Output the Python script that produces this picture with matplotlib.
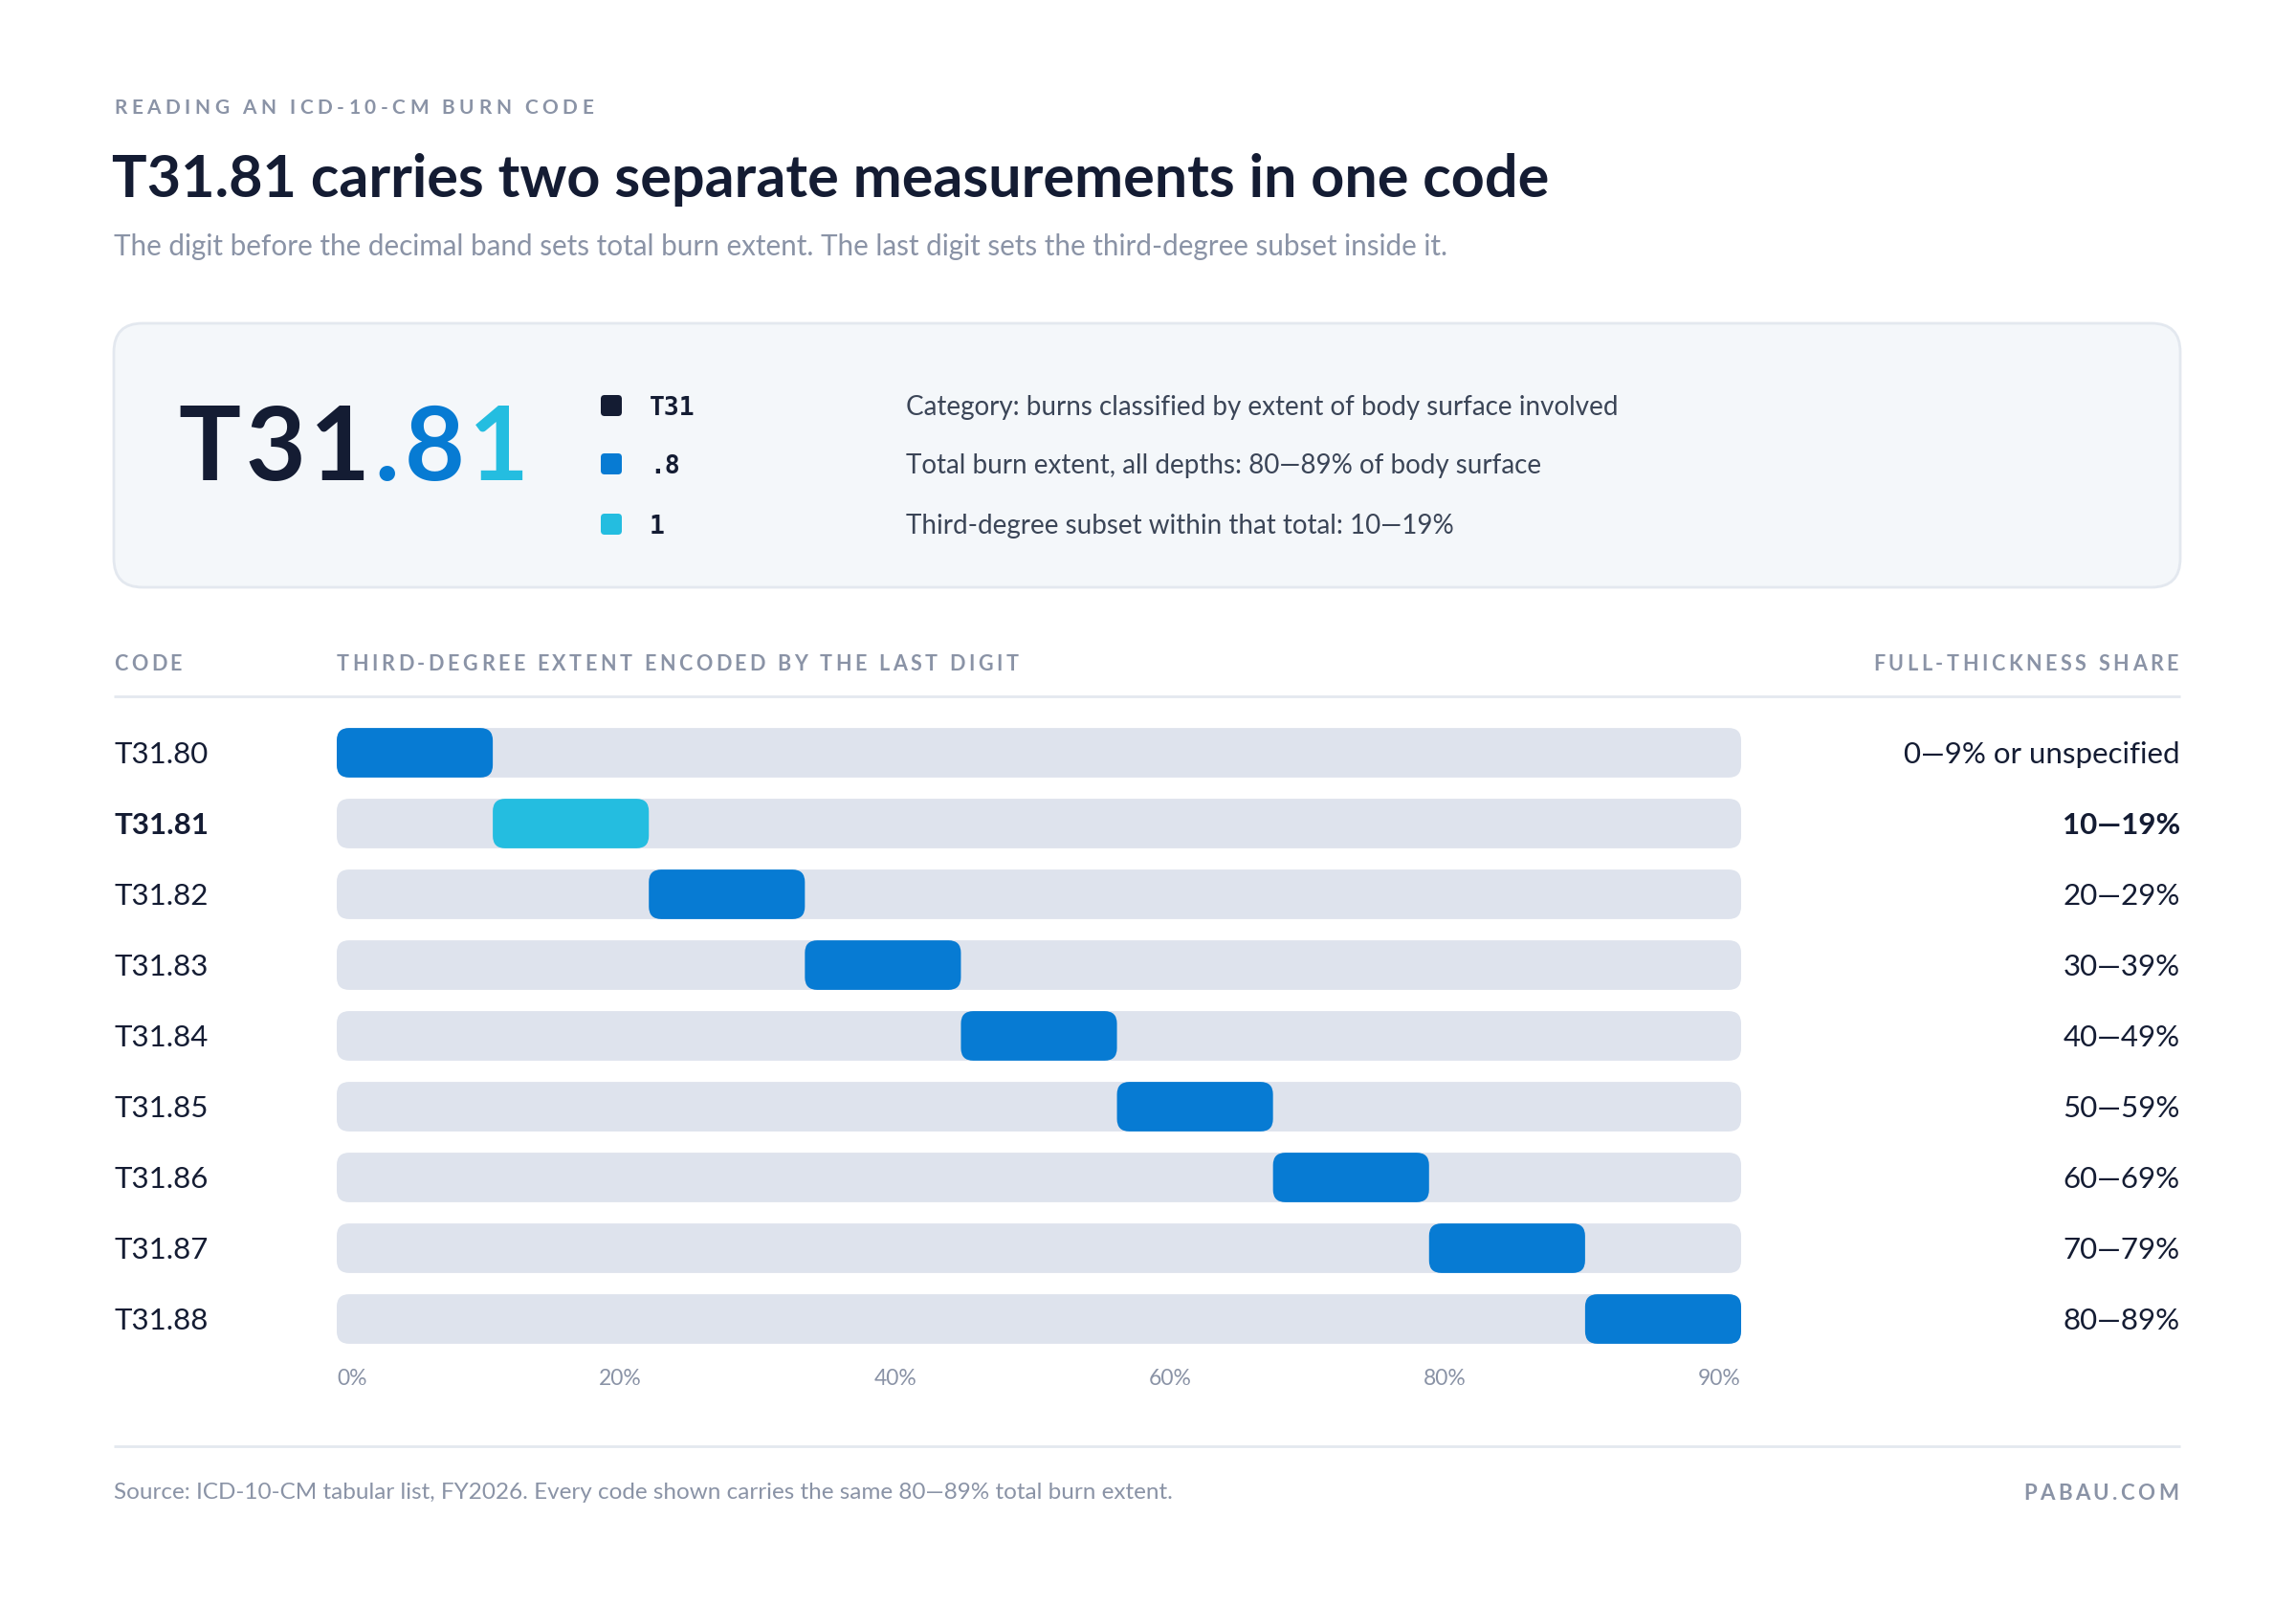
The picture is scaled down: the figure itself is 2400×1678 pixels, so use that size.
import numpy as np
import matplotlib
matplotlib.use("Agg")
import matplotlib.pyplot as plt
from matplotlib.patches import FancyBboxPatch
from matplotlib.font_manager import FontProperties, findfont, get_font
try:
    from matplotlib.ft2font import LoadFlags
    NOHINT = LoadFlags.NO_HINTING
except ImportError:
    from matplotlib.ft2font import LOAD_NO_HINTING as NOHINT

# ---- data ----
codes = ["T31.80", "T31.81", "T31.82", "T31.83", "T31.84", "T31.85", "T31.86", "T31.87", "T31.88"]
band_start = [0, 10, 20, 30, 40, 50, 60, 70, 80]
band_width = [10, 10, 10, 10, 10, 10, 10, 10, 10]
share_labels = ["0\u20149% or unspecified", "10\u201419%", "20\u201429%", "30\u201439%", "40\u201449%",
                "50\u201459%", "60\u201469%", "70\u201479%", "80\u201489%"]
highlight = "T31.81"
track_max = 90
tick_labels = ["0%", "20%", "40%", "60%", "80%", "90%"]

legend_parts = ["T31", ".8", "1"]
legend_desc = ["Category: burns classified by extent of body surface involved",
               "Total burn extent, all depths: 80\u201489% of body surface",
               "Third-degree subset within that total: 10\u201419%"]

# ---- style ----
NAVY = "#141c33"
GREY = "#8a93a6"
TEXT = "#3b4557"
BLUE = "#077bd3"
CYAN = "#24bde0"
TRACK = "#dee3ed"
CARD = "#f4f7fa"
LINE = "#e3e8ef"
FONT = "Lato"
DPI = 100
W, H = 2400, 1678

fig = plt.figure(figsize=(W / DPI, H / DPI), dpi=DPI)
fig.patch.set_facecolor("white")
lay = fig.add_axes([0, 0, 1, 1])
lay.set_xlim(0, W)
lay.set_ylim(H, 0)
lay.axis("off")


def advances(s, size, weight="normal", family=FONT):
    prop = FontProperties(family=family, weight=weight, size=size)
    font = get_font(findfont(prop))
    font.set_size(size, DPI)
    out = []
    for c in s:
        g = font.load_char(ord(c), flags=NOHINT)
        out.append(g.linearHoriAdvance / 65536)
    return prop, out


def spaced(x, y, s, size, spacing, color, weight="normal", ha="left", colors=None):
    # letter-spaced text, drawn char by char on the baseline
    prop, adv = advances(s, size, weight)
    total = sum(adv) + spacing * (len(s) - 1)
    x0 = x - total if ha == "right" else x
    if colors is None:
        colors = [color] * len(s)
    for c, a, col in zip(s, adv, colors):
        lay.text(x0, y, c, fontproperties=prop, color=col, ha="left", va="baseline")
        x0 += a + spacing


# ---- header ----
spaced(119, 119, "READING AN ICD-10-CM BURN CODE", 15, 4.5, GREY, weight="bold")
lay.text(117, 206, "T31.81 carries two separate measurements in one code", fontsize=44,
         fontfamily=FONT, fontweight="bold", color=NAVY, va="baseline")
lay.text(119, 267, "The digit before the decimal band sets total burn extent. The last digit sets the third-degree subset inside it.",
         fontsize=21.3, fontfamily=FONT, color=GREY, va="baseline")

# ---- card ----
lay.add_patch(FancyBboxPatch((119, 338), 2160, 276, boxstyle="round,pad=0,rounding_size=30",
                             fc=CARD, ec=LINE, lw=2))

big_colors = [NAVY, BLUE, CYAN]
big_code = "".join(legend_parts)
char_cols = [col for part, col in zip(legend_parts, big_colors) for _ in part]
spaced(186, 502, big_code, 78, 5, NAVY, weight="bold", colors=char_cols)

rows_y = [424, 485, 548]
for yy, part, col, desc in zip(rows_y, legend_parts, big_colors, legend_desc):
    lay.add_patch(FancyBboxPatch((628, yy - 11), 22, 22, boxstyle="round,pad=0,rounding_size=4",
                                 fc=col, ec="none"))
    lay.text(679, yy + 10, part, fontsize=19, fontfamily="DejaVu Sans Mono", fontweight="bold",
             color=NAVY, va="baseline")
    lay.text(947, yy + 10, desc, fontsize=20, fontfamily=FONT, color=TEXT, va="baseline")

# ---- table headers ----
spaced(119, 701, "CODE", 15.5, 3.6, GREY, weight="bold")
spaced(352, 701, "THIRD-DEGREE EXTENT ENCODED BY THE LAST DIGIT", 15.5, 3.6, GREY, weight="bold")
spaced(2277, 701, "FULL-THICKNESS SHARE", 15.5, 3.6, GREY, weight="bold", ha="right")
lay.plot([119, 2279], [728, 728], color=LINE, lw=2, solid_capstyle="butt")

# ---- bars ----
ax = fig.add_axes([352 / W, 1 - 1416 / H, 1468 / W, 666 / H])
ax.set_xlim(0, track_max)
ax.set_ylim(len(codes) - 0.5, -0.5)
ax.axis("off")

ypos = np.arange(len(codes))
bar_h = 0.70
track = ax.barh(ypos, [track_max] * len(codes), height=bar_h, color=TRACK)
band_cols = [CYAN if c == highlight else BLUE for c in codes]
bands = ax.barh(ypos, band_width, left=band_start, height=bar_h, color=band_cols)

# rounded corners: same pixel radius in x and y
px_x = track_max / (1468)
px_y = len(codes) / 666
asp = px_y / px_x
rad = 13 * px_x
for cont in (track, bands):
    for p in cont.patches:
        ax.add_patch(FancyBboxPatch((p.get_x(), p.get_y()), p.get_width(), p.get_height(),
                                    boxstyle=f"round,pad=0,rounding_size={rad}", mutation_aspect=asp,
                                    fc=p.get_facecolor(), ec="none"))
        p.set_visible(False)

# labels at each row, positioned through the bar axes
to_lay = lay.transData.inverted()
for i, (c, s) in enumerate(zip(codes, share_labels)):
    yy = to_lay.transform(ax.transData.transform((0, i)))[1]
    wt = "bold" if c == highlight else "normal"
    lay.text(119, yy + 11, c, fontsize=22.5, fontfamily=FONT, fontweight=wt, color=NAVY, va="baseline")
    lay.text(2279, yy + 11, s, fontsize=22.5, fontfamily=FONT, fontweight=wt, color=NAVY,
             va="baseline", ha="right")

# tick labels, spread evenly between the track ends
x_left = to_lay.transform(ax.transData.transform((0, 0)))[0]
x_right = to_lay.transform(ax.transData.transform((track_max, 0)))[0]
ticks = [lay.text(0, 1448, t, fontsize=16.5, fontfamily=FONT, color=GREY, va="baseline") for t in tick_labels]
fig.canvas.draw()
r = fig.canvas.get_renderer()
widths = [t.get_window_extent(r).width for t in ticks]
gap = (x_right - x_left - sum(widths)) / (len(ticks) - 1)
xx = x_left
for t, w in zip(ticks, widths):
    t.set_x(xx)
    xx += w + gap

# ---- footer ----
lay.plot([119, 2279], [1512, 1512], color=LINE, lw=2, solid_capstyle="butt")
lay.text(119, 1567, "Source: ICD-10-CM tabular list, FY2026. Every code shown carries the same 80\u201489% total burn extent.",
         fontsize=17.5, fontfamily=FONT, color=GREY, va="baseline")
spaced(2277, 1568, "PABAU.COM", 16, 3.4, GREY, weight="bold", ha="right")

fig.savefig("out.png", dpi=DPI, facecolor="white")
